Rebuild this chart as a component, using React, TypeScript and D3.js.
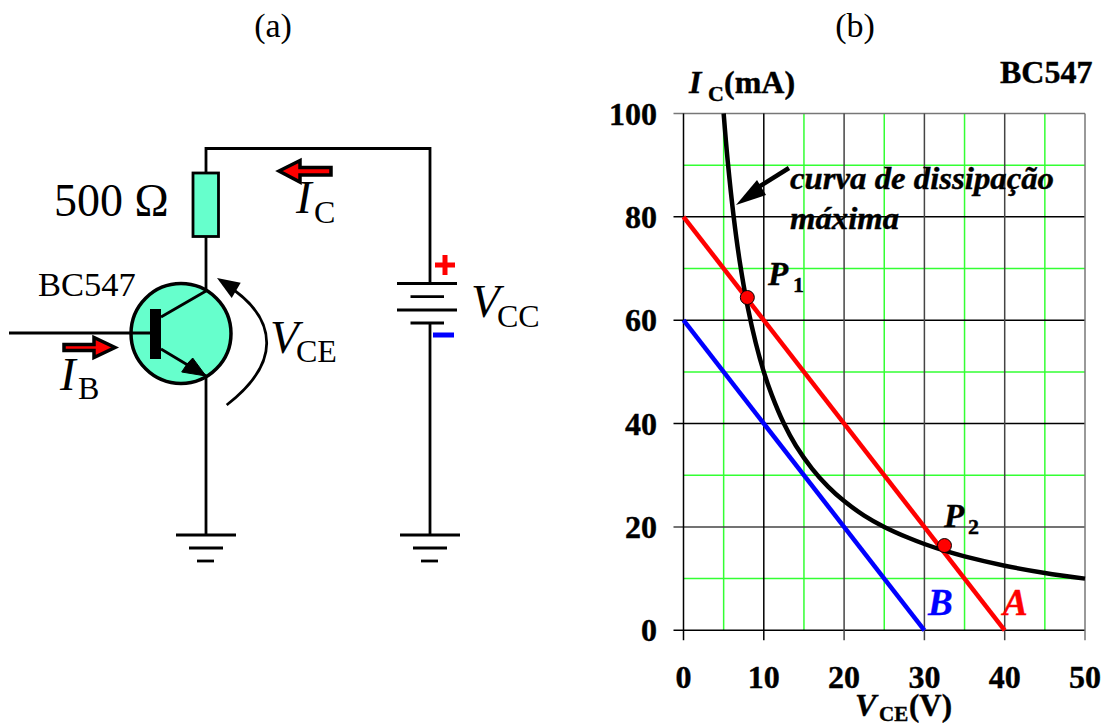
import React from "react";
import * as d3 from "d3";

const vceTicks = [0, 10, 20, 30, 40, 50];
const icTicks = [0, 20, 40, 60, 80, 100];
const vceMinor = [5, 15, 25, 35, 45];
const icMinor = [10, 30, 50, 70, 90];
const lineA = [[0, 80], [40, 0]];
const lineB = [[0, 60], [30, 0]];
const curveV = [5, 5.5, 6.25, 7, 8, 9, 10, 11, 12.5, 14, 16, 18, 20, 22.5, 25, 28, 30, 32.5, 35, 40, 45, 50];
const curveI = [100, 90.9, 80, 71.4, 62.5, 55.6, 50, 45.5, 40, 35.7, 31.3, 27.8, 25, 22.2, 20, 17.9, 16.7, 15.4, 14.3, 12.5, 11.1, 10];
const opPoints = [[7.95, 64.4], [32.5, 16.4]];

const x = d3.scaleLinear().domain([0, 50]).range([683.5, 1085]);
const y = d3.scaleLinear().domain([0, 100]).range([630.3, 113.5]);
const path = d3.line<number[]>().x((d) => x(d[0])).y((d) => y(d[1]));
const curvePath = d3.line<number>().x((d) => x(d)).y((_, i) => y(curveI[i])).curve(d3.curveCatmullRom);

const TEAL = "#66ffcc";
const SERIF = "'Liberation Serif', serif";
const wires = [
  "M206 236V148.5H430V283", "M430 323V535", "M206 236V292", "M206 376V535", "M9 333H150",
  "M161 317L206 291", "M161 349L206 376",
];
const plates: number[][] = [
  [397, 457, 283.5], [410.5, 444, 296.7], [397, 457, 310], [410.5, 444, 323],
  [400, 460, 535], [413, 447, 548], [421, 438, 561],
  [176, 236, 535], [189, 223, 548], [197, 214, 561],
];

const T = ({ children, ...p }: any) => <text fontFamily={SERIF} {...p}>{children}</text>;

export default function App() {
  return (
    <svg width={1103} height={725} style={{ position: "absolute", left: 0, top: 0, background: "#fff" }}>
      {/* (a) circuit */}
      <T x={273} y={37} fontSize={34} textAnchor="middle">(a)</T>
      <g fill="none" stroke="#000" strokeWidth={2.8}>
        {wires.map((d) => <path key={d} d={d} />)}
        {plates.map((p, i) => <line key={i} x1={p[0]} x2={p[1]} y1={p[2]} y2={p[2]} />)}
      </g>
      <rect x={193} y={173} width={25.5} height={63.5} fill={TEAL} stroke="#000" strokeWidth={2.8} />
      <circle cx={181} cy={333.5} r={50} fill={TEAL} stroke="#000" strokeWidth={3.5} />
      <path d="M132 333H150M161 317L206 291M161 349L206 376" fill="none" stroke="#000" strokeWidth={2.8} />
      <rect x={150} y={309} width={11} height={50} fill="#000" />
      <path d="M206 376L181.7 372L187 364L192.7 358Z" fill="#000" stroke="#000" strokeWidth={1} />
      <path d="M226.7 405Q266.7 374 266.7 343Q266.7 310 225 284" fill="none" stroke="#000" strokeWidth={2.8} />
      <path d="M217 278L240.7 282.7L231.7 298Z" fill="#000" />
      <path d="M64 344.5H94V337.5L115 347.5L94 357.5V350.5H64Z" fill="#f00" stroke="#000" strokeWidth={3.5} />
      <path d="M279 171L300 160.5V167.5H331V175H300V182Z" fill="#f00" stroke="#000" strokeWidth={3.5} />
      <rect x={435} y={262.5} width={20} height={5} fill="#f00" />
      <rect x={442.5} y={255} width={5} height={20} fill="#f00" />
      <rect x={433} y={332.5} width={21} height={5} fill="#00f" />

      <T x={54} y={216} fontSize={46}>500 Ω</T>
      <T x={38} y={296} fontSize={34.5}>BC547</T>
      <T x={60} y={390} fontSize={47} fontStyle="italic">I</T>
      <T x={78} y={399} fontSize={32}>B</T>
      <T x={296} y={213} fontSize={47} fontStyle="italic">I</T>
      <T x={314} y={222.5} fontSize={32}>C</T>
      <T x={270} y={353} fontSize={47} fontStyle="italic">V</T>
      <T x={296} y={362} fontSize={32}>CE</T>
      <T x={471} y={317} fontSize={47} fontStyle="italic">V</T>
      <T x={497} y={327} fontSize={32}>CC</T>

      {/* (b) chart */}
      <T x={855} y={37} fontSize={34} textAnchor="middle">(b)</T>
      <g strokeWidth={1.5}>
        {icMinor.map((v) => <line key={v} x1={x(0)} x2={x(50)} y1={y(v)} y2={y(v)} stroke="#33ff33" />)}
        {vceMinor.map((v) => <line key={v} x1={x(v)} x2={x(v)} y1={y(0)} y2={y(100)} stroke="#33ff33" />)}
        {icTicks.map((v) => <line key={v} x1={x(0) - 10} x2={x(50)} y1={y(v)} y2={y(v)} stroke={v === 100 ? "#777" : v === 20 ? "#444" : "#000"} />)}
        {vceTicks.map((v) => <line key={v} x1={x(v)} x2={x(v)} y1={y(0) + 10} y2={y(100)} stroke={v <= 10 ? "#000" : v === 50 ? "#777" : "#444"} />)}
      </g>
      <path d={path(lineB as number[][])!} fill="none" stroke="#00f" strokeWidth={4.5} />
      <path d={path(lineA as number[][])!} fill="none" stroke="#f00" strokeWidth={4.5} />
      <path d={curvePath(curveV)!} fill="none" stroke="#000" strokeWidth={4.5} />
      {opPoints.map((p, i) => <circle key={i} cx={x(p[0])} cy={y(p[1])} r={7} fill="#f00" stroke="#000" strokeWidth={1} />)}
      <path d="M789 168L757 188" stroke="#000" strokeWidth={4.5} fill="none" />
      <path d="M736 205L757 180L766 195Z" fill="#000" />

      <g fontWeight="bold" stroke="#000" strokeWidth={0.4}>
        {icTicks.map((v) => <T key={v} x={657} y={y(v) + 11} fontSize={32} textAnchor="end">{v}</T>)}
        {vceTicks.map((v) => <T key={v} x={x(v)} y={688} fontSize={32} textAnchor="middle">{v}</T>)}
        <T x={689} y={93} fontSize={32} fontStyle="italic">I</T>
        <T x={708} y={101} fontSize={22}>C</T>
        <T x={724} y={93} fontSize={32}>(mA)</T>
        <T x={1000} y={83} fontSize={32}>BC547</T>
        <T x={790} y={189} fontSize={31} fontStyle="italic" textLength={264} lengthAdjust="spacingAndGlyphs">curva de dissipação</T>
        <T x={790} y={229} fontSize={31} fontStyle="italic" textLength={109} lengthAdjust="spacingAndGlyphs">máxima</T>
        <T x={768} y={285} fontSize={33} fontStyle="italic">P</T>
        <T x={793} y={292} fontSize={22}>1</T>
        <T x={944} y={527} fontSize={33} fontStyle="italic">P</T>
        <T x={968} y={534} fontSize={22}>2</T>
        <T x={928} y={615} fontSize={37} fontStyle="italic" fill="#00f" stroke="#00f">B</T>
        <T x={1003} y={615} fontSize={37} fontStyle="italic" fill="#f00" stroke="#f00">A</T>
        <T x={855} y={716} fontSize={32} fontStyle="italic">V</T>
        <T x={879} y={720.5} fontSize={21}>CE</T>
        <T x={909} y={716} fontSize={31}>(V)</T>
      </g>
    </svg>
  );
}
